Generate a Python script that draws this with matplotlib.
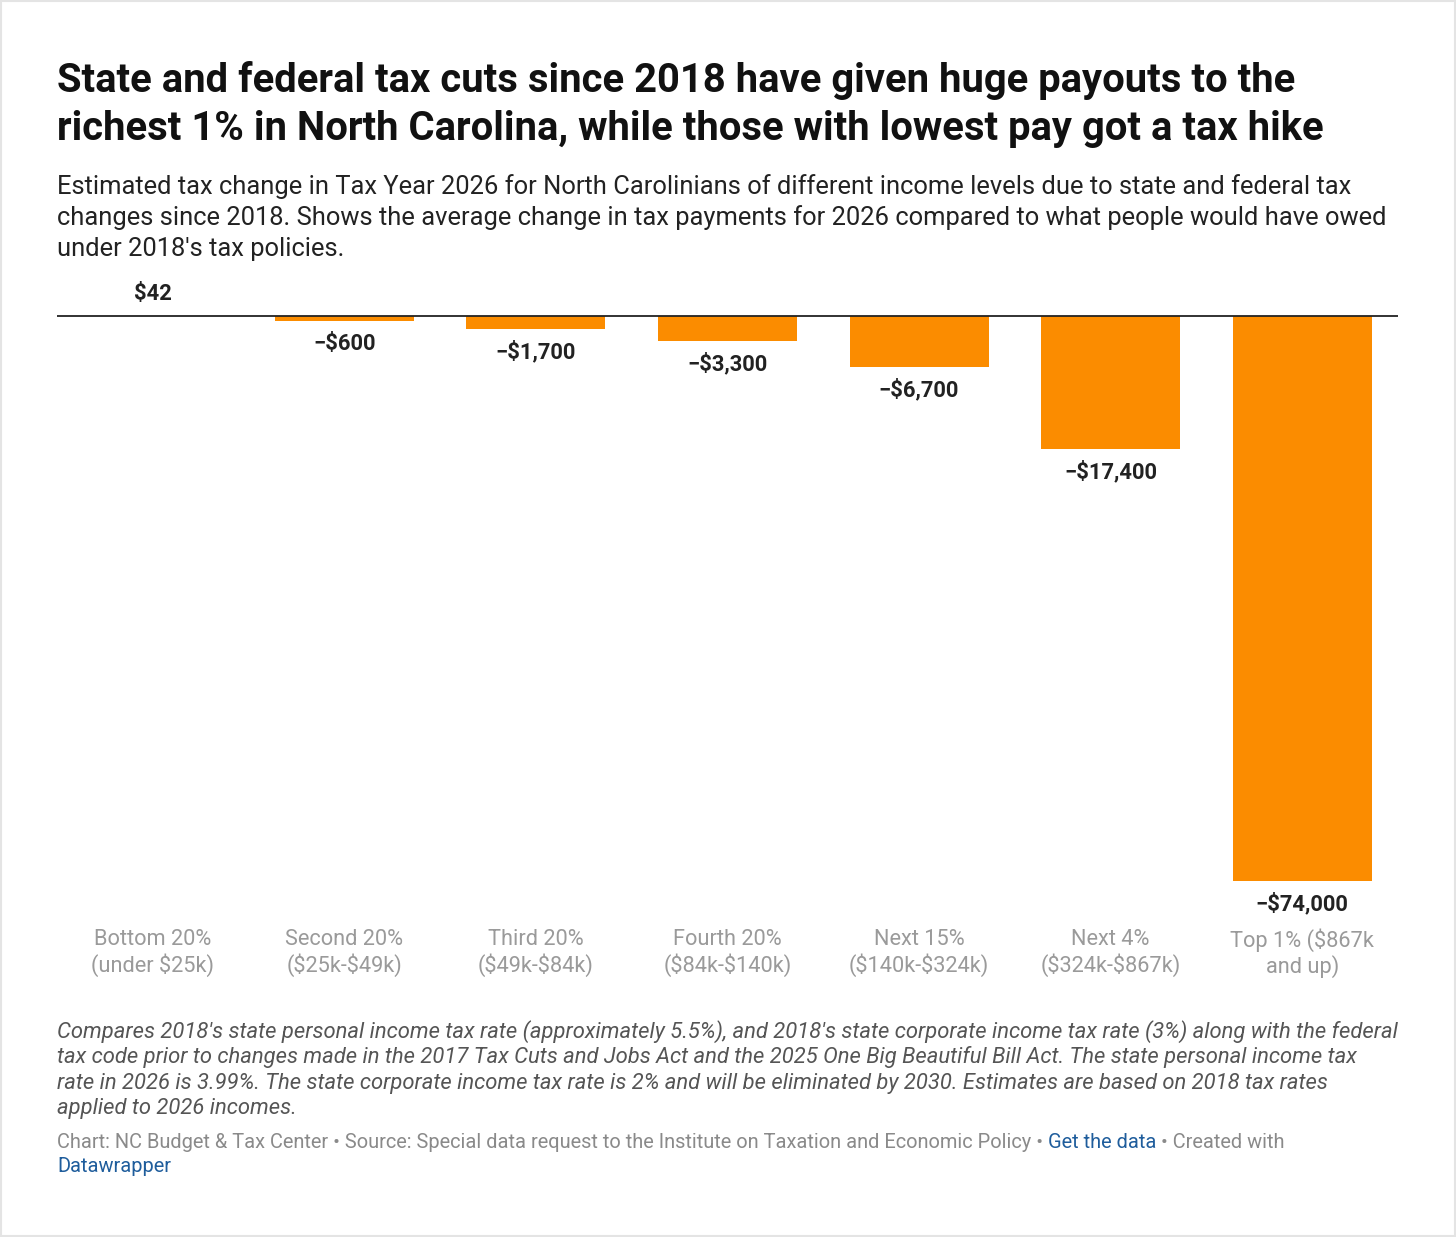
import matplotlib
matplotlib.use("Agg")
import matplotlib.pyplot as plt
import matplotlib.patches as mpatches

plt.rcParams['font.family'] = ['Roboto', 'DejaVu Sans']

# Data
categories = ["Bottom 20%\n(under $25k)", "Second 20%\n($25k-$49k)", "Third 20%\n($49k-$84k)",
              "Fourth 20%\n($84k-$140k)", "Next 15%\n($140k-$324k)", "Next 4%\n($324k-$867k)",
              "Top 1% ($867k\nand up)"]
values = [42, -600, -1700, -3300, -6700, -17400, -74000]

BAR_COLOR = '#fb8c00'
TEXT_DARK = '#222222'
LABEL_GRAY = '#9a9a9a'

W, H = 1456, 1237
fig = plt.figure(figsize=(W / 100, H / 100), dpi=100)
fig.patch.set_facecolor('white')


def fx(px):
    return px / W


def fy(py):
    return 1 - py / H


# Thin frame around the card
fig.patches.append(mpatches.Rectangle((0.0005, 0.0005), 0.999, 0.999, transform=fig.transFigure,
                                      fill=False, edgecolor='#e4e4e4', linewidth=1.5))

# Title and subtitle
fig.text(fx(57), fy(81), "State and federal tax cuts since 2018 have given huge payouts to the",
         fontsize=28.8, fontweight='bold', color='#111111', va='center', ha='left')
fig.text(fx(57), fy(129), "richest 1% in North Carolina, while those with lowest pay got a tax hike",
         fontsize=28.8, fontweight='bold', color='#111111', va='center', ha='left')
subtitle = ["Estimated tax change in Tax Year 2026 for North Carolinians of different income levels due to state and federal tax",
            "changes since 2018. Shows the average change in tax payments for 2026 compared to what people would have owed",
            "under 2018's tax policies."]
for i, line in enumerate(subtitle):
    fig.text(fx(57), fy(187 + i * 31), line, fontsize=18.4, color='#222222', va='center', ha='left')

# Chart area
ax_top, ax_bot = 300, 881
ax = fig.add_axes([fx(57), fy(ax_bot), fx(1398) - fx(57), (ax_bot - ax_top) / H])
x = list(range(len(values)))
ax.bar(x, values, width=0.725, color=BAR_COLOR, zorder=2)
ymin = min(values)
ax.set_xlim(-0.5, len(values) - 0.5)
ax.set_ylim(ymin, -ymin * (316 - ax_top) / (ax_bot - 316))
ax.axhline(0, color='#222222', linewidth=1.3, zorder=3)
for s in ax.spines.values():
    s.set_visible(False)
ax.set_yticks([])
ax.set_xticks([])


def fmt(v):
    s = "${:,}".format(abs(v))
    return s if v >= 0 else "\u2212" + s


for xi, v, cat in zip(x, values, categories):
    off = 22 if v >= 0 else -23
    ax.annotate(fmt(v), (xi, v), xytext=(0, off), textcoords='offset pixels',
                ha='center', va='center', fontsize=15.8, fontweight='bold', color=TEXT_DARK,
                annotation_clip=False, parse_math=False)
    ax.annotate(cat, (xi, ymin), xytext=(0, -72), textcoords='offset pixels',
                ha='center', va='center', fontsize=15.7, color=LABEL_GRAY, linespacing=1.19,
                annotation_clip=False, parse_math=False)

# Notes
notes = ["Compares 2018's state personal income tax rate (approximately 5.5%), and 2018's state corporate income tax rate (3%) along with the federal",
         "tax code prior to changes made in the 2017 Tax Cuts and Jobs Act and the 2025 One Big Beautiful Bill Act. The state personal income tax",
         "rate in 2026 is 3.99%. The state corporate income tax rate is 2% and will be eliminated by 2030. Estimates are based on 2018 tax rates",
         "applied to 2026 incomes."]
for i, line in enumerate(notes):
    fig.text(fx(57), fy(1032 + i * 25.5), line, fontsize=15.8, style='italic', color='#555555',
             va='center', ha='left')

# Footer with link-coloured pieces
FOOT_GRAY = '#8a8a8a'
LINK = '#1f5d9c'
pieces = [("Chart: NC Budget & Tax Center \u2022 Source: Special data request to the Institute on Taxation and Economic Policy \u2022 ", FOOT_GRAY),
          ("Get the data", LINK),
          (" \u2022 Created with", FOOT_GRAY)]
renderer = fig.canvas.get_renderer()
xpos = 57
for txt, col in pieces:
    t = fig.text(fx(xpos), fy(1142), txt, fontsize=14.4, color=col, va='center', ha='left')
    bb = t.get_window_extent(renderer=renderer)
    xpos += bb.width
fig.text(fx(57), fy(1166), "Datawrapper", fontsize=14.4, color=LINK, va='center', ha='left')

fig.savefig('out.png', dpi=100, facecolor='white')
